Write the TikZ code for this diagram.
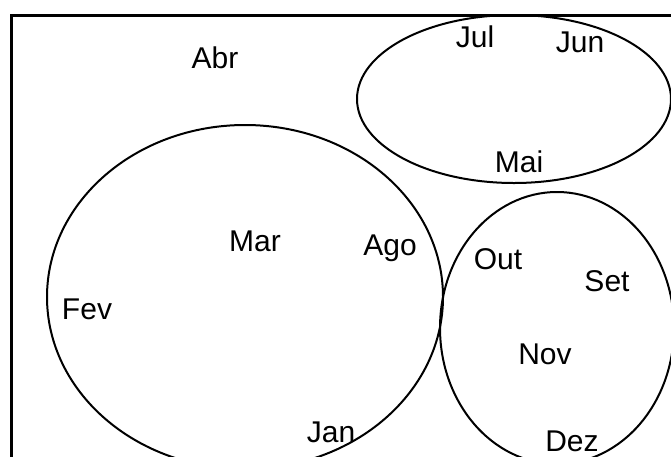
\documentclass[tikz,border=0pt]{standalone}
\usepackage{fontspec}
\setmainfont{Liberation Sans}
\begin{document}
\begin{tikzpicture}[x=1pt,y=-1pt,
  lbl/.style={anchor=base,inner sep=0pt,font=\fontsize{30}{30}\selectfont},
  setline/.style={line width=2pt,black},
  frameline/.style={line width=3pt,black}]
\useasboundingbox (0,0) rectangle (671,456);
\clip (0,0) rectangle (671,456);
\fill[white] (0,0) rectangle (671,456);
% frame
\draw[frameline] (11,460) -- (11,15.5) -- (675,15.5);
% sets
\draw[setline] (245,297) ellipse [x radius=198, y radius=172];
\draw[setline] (514,99) ellipse [x radius=157, y radius=84];
\draw[setline] (557,328) ellipse [x radius=117, y radius=136];
% labels
\node[lbl] (abr) at (215,68) {Abr};
\node[lbl] (jul) at (475,47) {Jul};
\node[lbl] (jun) at (580,52) {Jun};
\node[lbl] (mai) at (519,172) {Mai};
\node[lbl] (mar) at (255,251) {Mar};
\node[lbl] (ago) at (390,255) {Ago};
\node[lbl] (fev) at (87,319) {Fev};
\node[lbl] (out) at (498,269) {Out};
\node[lbl] (set) at (607,291) {Set};
\node[lbl] (nov) at (545,364) {Nov};
\node[lbl] (jan) at (331,442) {Jan};
\node[lbl] (dez) at (572,451.5) {Dez};
\end{tikzpicture}
\end{document}
